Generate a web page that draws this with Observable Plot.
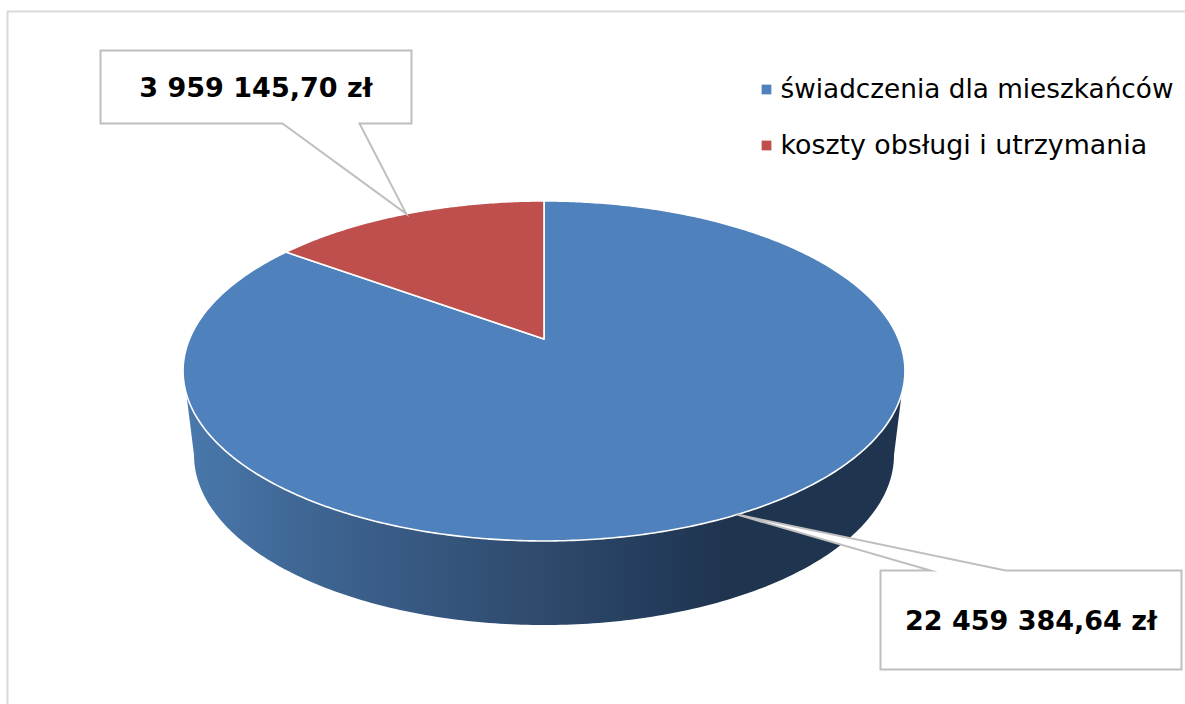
<!DOCTYPE html>
<html lang="pl">
<head>
<meta charset="utf-8">
<style>html,body{margin:0;padding:0;background:#fff}svg{display:block}</style>
<script src="https://cdn.jsdelivr.net/npm/d3@7"></script>
<script src="https://cdn.jsdelivr.net/npm/@observablehq/plot@0.6"></script>
</head>
<body>
<script>
const categories = ["świadczenia dla mieszkańców", "koszty obsługi i utrzymania"];
const values = [22459384.64, 3959145.70];
const colors = ["#4F81BD", "#BE4F4C"];

// Layout of the tilted pie (pixel units, x and y scales are identity)
const W = 1185, H = 704;
const pie = {cx: 543.5, cy: 338.5, R: 354.5, B: 164, k: 0.188};
const floor = {cx: 543.5, cy: 454.5, rx: 350, ry: 170};
const rimTop = {cx: 543.5, cy: 370.5, rx: 360.5, ry: 170};
const sideStops = [[0, "#4A79AD"], [0.16, "#3F6795"], [0.3, "#385A84"], [0.5, "#2E4A6C"], [0.65, "#243D5C"], [0.75, "#1F344F"], [1, "#1F344F"]];
const boxes = [
  {x1: 100, x2: 411, y1: 50, y2: 123, gap: [282, 359], side: "bottom", index: 1},
  {x1: 880, x2: 1181, y1: 570, y2: 669, gap: [930, 1005], side: "top", index: 0}
];
const legendRows = [{x: 766, y: 89, size: 26.3}, {x: 766, y: 145, size: 26.8}];
const frameTop = 11, frameLeft = 7;

const total = d3.sum(values);
const fmt = d3.formatLocale({decimal: ",", thousands: " ", grouping: [3], currency: ["", " zł"]}).format(",.2f");

// Angle clockwise from 12 o'clock, projected with a perspective onto the page
function project(t) {
  const u = Math.sin(t), v = Math.cos(t), w = 1 + pie.k * v;
  return {x: pie.cx + pie.R * u / w, y: pie.cy - pie.B * v / w};
}
let acc = 0;
const slices = values.map((v, i) => {
  const a0 = acc / total * 2 * Math.PI; acc += v;
  const a1 = acc / total * 2 * Math.PI;
  return {i, name: categories[i], a0, a1, mid: (a0 + a1) / 2, value: v};
});
const slicePts = slices.flatMap(s => {
  const n = Math.ceil((s.a1 - s.a0) / 0.01);
  const arc = d3.range(n + 1).map(j => project(s.a0 + (s.a1 - s.a0) * j / n));
  const apex = {x: pie.cx, y: pie.cy};
  return [apex, ...arc, apex].map(p => ({...p, name: s.name}));
});

// Side wall: front half of the lower rim joined to the front half of the upper rim
const N = 200;
const sidePts = [
  ...d3.range(N + 1).map(j => { const t = Math.PI * j / N; return {x: rimTop.cx + rimTop.rx * Math.cos(t), y: rimTop.cy + rimTop.ry * Math.sin(t)}; }),
  ...d3.range(N + 1).map(j => { const t = Math.PI - Math.PI * j / N; return {x: floor.cx + floor.rx * Math.cos(t), y: floor.cy + floor.ry * Math.sin(t)}; })
];
sidePts.push(sidePts[0]);

// Callouts: box outline with a pointer to the middle of the slice it names
const calloutPts = boxes.flatMap((b, id) => {
  const tip = project(slices[b.index].mid);
  const path = b.side === "bottom"
    ? [[b.x1, b.y1], [b.x2, b.y1], [b.x2, b.y2], [b.gap[1], b.y2], [tip.x, tip.y], [b.gap[0], b.y2], [b.x1, b.y2], [b.x1, b.y1]]
    : [[b.x1, b.y1], [b.gap[0], b.y1], [tip.x, tip.y], [b.gap[1], b.y1], [b.x2, b.y1], [b.x2, b.y2], [b.x1, b.y2], [b.x1, b.y1]];
  return path.map(([x, y]) => ({x, y, id}));
});
const calloutLabels = boxes.map(b => ({
  x: (b.x1 + b.x2) / 2, y: (b.y1 + b.y2) / 2 + 1,
  text: fmt(values[b.index]) + " zł"
}));
const legend = categories.map((name, i) => ({name, ...legendRows[i]}));

function gradient() {
  const svg = d3.create("svg:defs");
  const g = svg.append("linearGradient").attr("id", "sideGrad").attr("x1", 0).attr("x2", 1).attr("y1", 0).attr("y2", 0);
  sideStops.forEach(([o, c]) => g.append("stop").attr("offset", o).attr("stop-color", c));
  return svg.node();
}

const chart = Plot.plot({
  width: W, height: H,
  margin: 0,
  x: {domain: [0, W], range: [0, W], axis: null},
  y: {domain: [0, H], range: [0, H], axis: null},
  color: {domain: categories, range: colors},
  style: {fontFamily: "'DejaVu Sans', Verdana, sans-serif", background: "#fff", color: "#000"},
  marks: [
    gradient,
    Plot.ruleY([frameTop], {x1: frameLeft, x2: W, stroke: "#D9D9D9", strokeWidth: 2}),
    Plot.ruleX([frameLeft], {y1: frameTop, y2: H, stroke: "#D9D9D9", strokeWidth: 2}),
    Plot.line(sidePts, {x: "x", y: "y", fill: "url(#sideGrad)", stroke: "none"}),
    Plot.line(slicePts, {x: "x", y: "y", z: "name", fill: "name", stroke: "#fff", strokeWidth: 1.6, strokeLinejoin: "round"}),
    Plot.line(calloutPts, {x: "x", y: "y", z: "id", fill: "#fff", stroke: "#BFBFBF", strokeWidth: 2, strokeLinejoin: "miter", strokeMiterlimit: 10}),
    Plot.text(calloutLabels, {x: "x", y: "y", text: "text", fontSize: 27, fontWeight: "bold", fill: "#000", textAnchor: "middle", lineAnchor: "middle"}),
    Plot.dot(legend, {x: "x", y: "y", fill: "name", symbol: "square", r: 5.5, stroke: null}),
    Plot.text(legend, {x: d => d.x + 14, y: "y", text: "name", fontSize: d => d.size, fill: "#000", textAnchor: "start", lineAnchor: "middle"})
  ]
});
document.body.appendChild(chart);
</script>
</body>
</html>
